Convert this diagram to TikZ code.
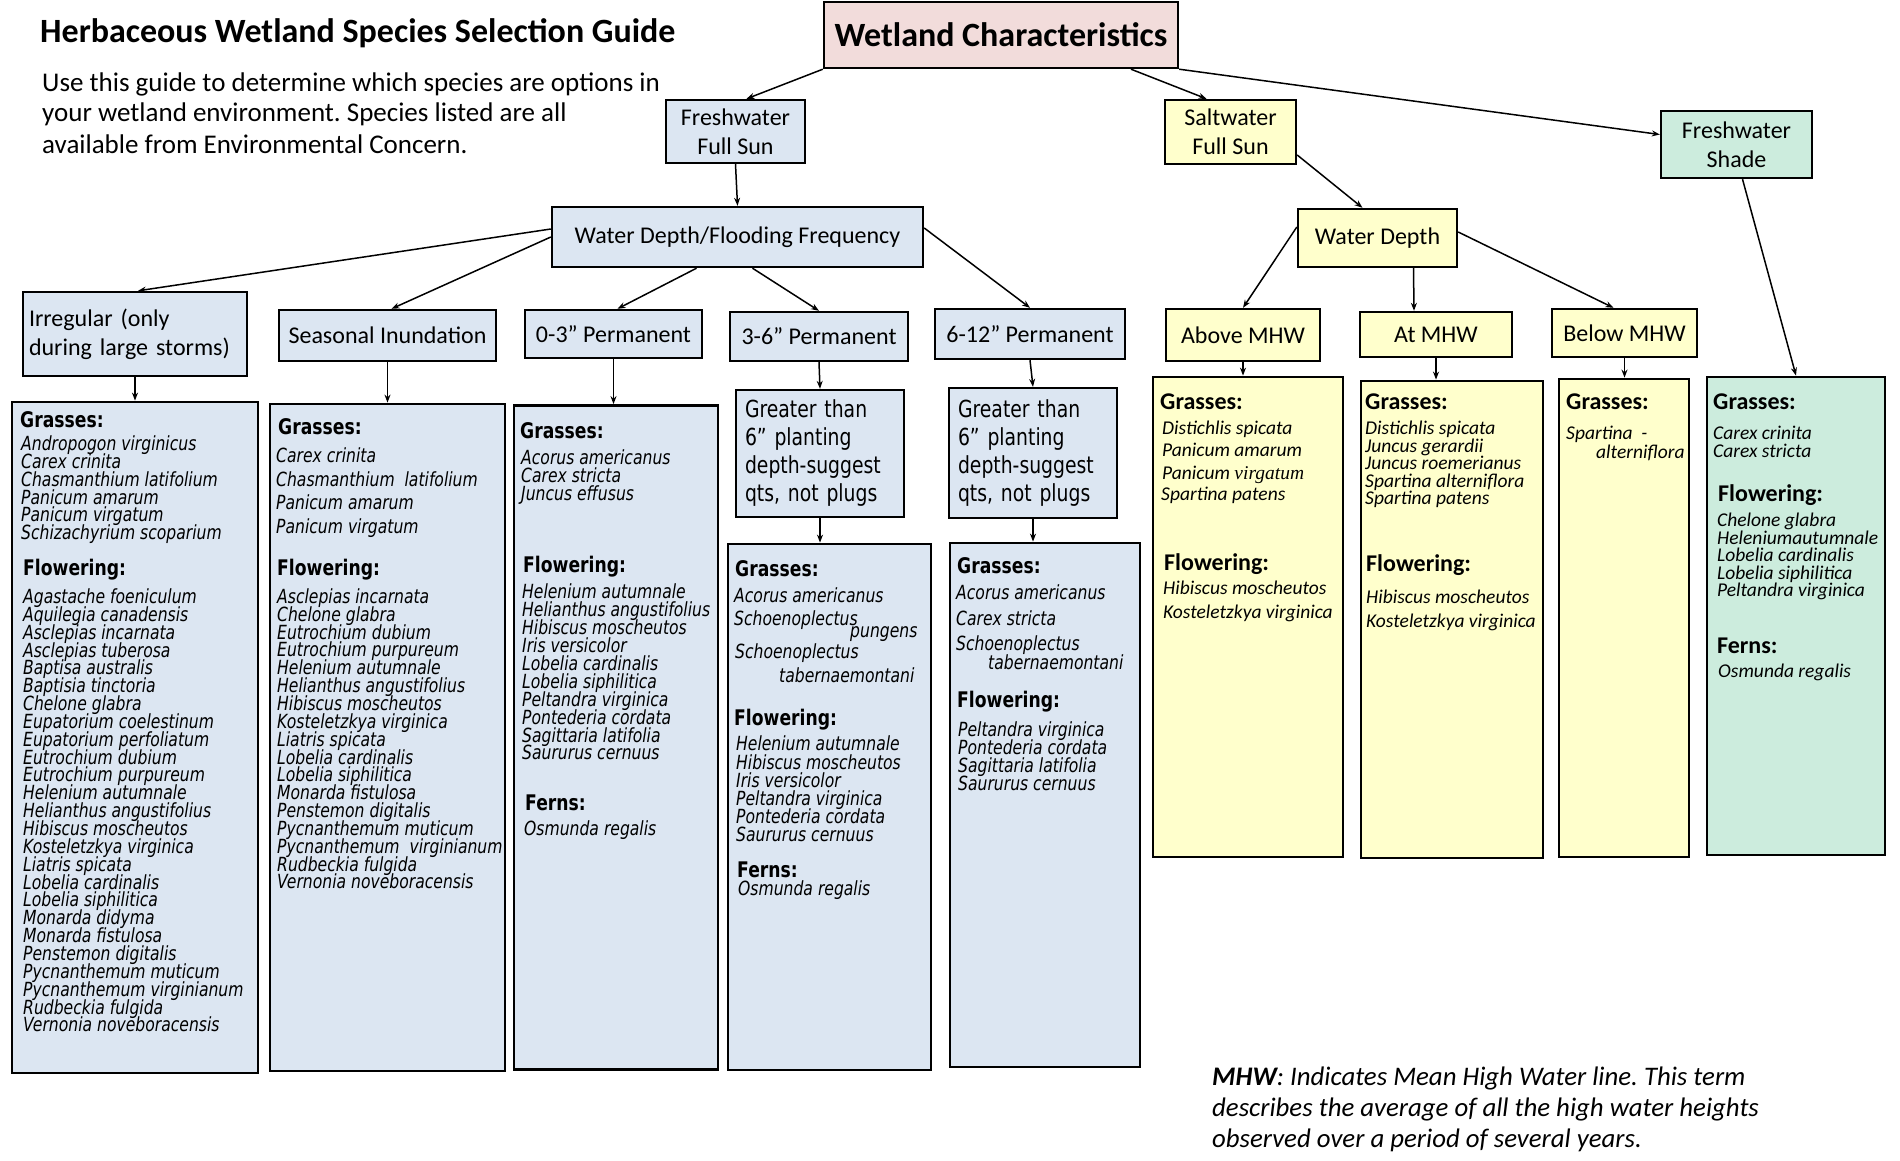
\documentclass[tikz,border=0pt]{standalone}
\usepackage{fontspec}
\setmainfont{Carlito}
\newfontfamily\vfont{DejaVu Sans}[FakeStretch=0.8,ItalicFont={DejaVu Sans Oblique},BoldFont={DejaVu Sans Bold}]
\newfontfamily\tnrfont{Liberation Serif}
\usetikzlibrary{arrows.meta}
\frenchspacing

\begin{document}
\begin{tikzpicture}[x=1pt,y=-1pt,
  box/.style={draw=black,line width=2.4pt,inner sep=0pt,align=center,font=\fontsize{24}{29}\selectfont},
  listbox/.style={draw=black,line width=2.8pt,inner sep=0pt},
  link/.style={draw=black,line width=1.5pt,-{Stealth[length=8pt,width=6pt]}},
  plain/.style={anchor=west,inner sep=0pt,font=\fontsize{27}{30}\selectfont},
  note/.style={anchor=west,inner sep=0pt,font=\itshape\fontsize{26.8}{31}\selectfont},
  sphead/.style={anchor=west,inner sep=0pt,font=\vfont\bfseries\fontsize{21.5}{24}\selectfont,text height=17.2pt,text depth=4.3pt},
  spname/.style={anchor=west,inner sep=0pt,font=\vfont\itshape\fontsize{19.5}{22}\selectfont,text height=15.6pt,text depth=3.9pt},
  sahead/.style={anchor=west,inner sep=0pt,font=\bfseries\fontsize{24}{29}\selectfont,text height=19.2pt,text depth=4.8pt},
  saname/.style={anchor=west,inner sep=0pt,font=\itshape\fontsize{19.5}{23}\selectfont,text height=15.6pt,text depth=3.9pt}]
\definecolor{fwColor}{RGB}{220,230,242}
\definecolor{swColor}{RGB}{255,255,204}
\definecolor{shColor}{RGB}{204,236,221}
\definecolor{topColor}{RGB}{242,220,219}
\path[use as bounding box,fill=white] (0,0) rectangle (1900,1160);

% heading
\node[plain,font=\bfseries\fontsize{34}{40}\selectfont] (title) at (40,33) {Herbaceous Wetland Species Selection Guide};
\node[plain] (intro1) at (42,84) {Use this guide to determine which species are options in};
\node[plain] (intro2) at (42,114) {your wetland environment. Species listed are all};
\node[plain] (intro3) at (42,144) {available from Environmental Concern.};

% tree boxes
\node[box,fill=topColor,minimum width=354pt,minimum height=66pt,font=\bfseries\fontsize{34}{40}\selectfont] (wc) at (1001,35) {Wetland Characteristics};
\node[box,fill=fwColor,minimum width=139pt,minimum height=63pt] (fwsun) at (735.5,131.5) {Freshwater\\Full Sun};
\node[box,fill=swColor,minimum width=131pt,minimum height=64pt] (swsun) at (1230.5,132) {Saltwater\\Full Sun};
\node[box,fill=shColor,minimum width=151pt,minimum height=67pt] (fwshade) at (1736.5,144.5) {Freshwater\\Shade};
\node[box,fill=fwColor,minimum width=371pt,minimum height=60pt] (wdff) at (737.5,237) {Water Depth/Flooding Frequency};
\node[box,fill=fwColor,minimum width=224pt,minimum height=84pt,text width=212pt,align=left] (irr) at (135,334) {Irregular (only\\during large storms)};
\node[box,fill=fwColor,minimum width=217pt,minimum height=51pt] (seas) at (387.5,335.5) {Seasonal Inundation};
\node[box,fill=fwColor,minimum width=177pt,minimum height=48pt] (perm03) at (613.5,334) {0-3” Permanent};
\node[box,fill=fwColor,minimum width=178pt,minimum height=49pt] (perm36) at (819,336.5) {3-6” Permanent};
\node[box,fill=fwColor,minimum width=190pt,minimum height=50pt] (perm612) at (1030,334) {6-12” Permanent};
\node[box,fill=swColor,minimum width=159pt,minimum height=58pt] (wd) at (1377.5,238) {Water Depth};
\node[box,fill=swColor,minimum width=154pt,minimum height=52pt] (above) at (1243,335) {Above MHW};
\node[box,fill=swColor,minimum width=152pt,minimum height=45pt] (atmhw) at (1436,334.5) {At MHW};
\node[box,fill=swColor,minimum width=145pt,minimum height=48pt] (below) at (1624.5,333) {Below MHW};
\node[box,fill=fwColor,minimum width=168pt,minimum height=127pt,text width=150pt,align=left,font=\vfont\fontsize{23.5}{28}\selectfont] (gt36) at (820,453.5) {Greater than\\6” planting\\depth-suggest\\qts, not plugs};
\node[box,fill=fwColor,minimum width=168pt,minimum height=130pt,text width=150pt,align=left,font=\vfont\fontsize{23.5}{28}\selectfont] (gt612) at (1033,453) {Greater than\\6” planting\\depth-suggest\\qts, not plugs};

% species boxes
\node[listbox,fill=fwColor,minimum width=246pt,minimum height=671pt] (irrlist) at (135,737.5) {};
\node[listbox,fill=fwColor,minimum width=235pt,minimum height=667pt] (seaslist) at (387.5,737.5) {};
\node[listbox,fill=fwColor,minimum width=204pt,minimum height=664pt] (p03list) at (616,737.5) {};
\node[listbox,fill=fwColor,minimum width=203pt,minimum height=526pt] (p36list) at (829.5,807) {};
\node[listbox,fill=fwColor,minimum width=190pt,minimum height=524pt] (p612list) at (1045,805) {};
\node[listbox,fill=swColor,minimum width=190pt,minimum height=480pt] (abovelist) at (1248,617) {};
\node[listbox,fill=swColor,minimum width=182pt,minimum height=477pt] (atlist) at (1452,619.5) {};
\node[listbox,fill=swColor,minimum width=130pt,minimum height=478pt] (belowlist) at (1624,618) {};
\node[listbox,fill=shColor,minimum width=178pt,minimum height=478pt] (shadelist) at (1796,616) {};

% connectors
\draw[link] (wc.south west) -- ([xshift=11pt]fwsun.north);
\draw[link] ([xshift=130pt]wc.south) -- ([xshift=-24pt]swsun.north);
\draw[link] (wc.south east) -- ([yshift=10pt]fwshade.west);
\draw[link] (fwsun.south) -- (wdff.north);
\draw[link] ([yshift=8pt]wdff.west) -- ([xshift=3pt]irr.north);
\draw[link] (wdff.west) -- ([xshift=4pt]seas.north);
\draw[link] ([xshift=-41pt]wdff.south) -- ([xshift=4pt]perm03.north);
\draw[link] ([xshift=15pt]wdff.south) -- (perm36.north);
\draw[link] ([yshift=9pt]wdff.east) -- (perm612.north);
\draw[link] ([yshift=-23pt]swsun.east) -- ([xshift=-15pt]wd.north);
\draw[link] ([yshift=11pt]wd.west) -- (above.north);
\draw[link] ([xshift=36pt]wd.south) -- ([xshift=-22pt]atmhw.north);
\draw[link] ([yshift=6pt]wd.east) -- ([xshift=-11pt]below.north);
\draw[link] ([xshift=6pt]fwshade.south) -- (shadelist.north);
\draw[link] (irr.south) -- (irrlist.north);
\draw[link] (seas.south) -- (seaslist.north);
\draw[link] (perm03.south) -- (perm03.south |- p03list.north);
\draw[link] (perm36.south) -- (gt36.north);
\draw[link] (gt36.south) -- (gt36.south |- p36list.north);
\draw[link] (perm612.south) -- (gt612.north);
\draw[link] (gt612.south) -- (gt612.south |- p612list.north);
\draw[link] (above.south) -- (above.south |- abovelist.north);
\draw[link] (atmhw.south) -- (atmhw.south |- atlist.north);
\draw[link] (below.south) -- (below.south |- belowlist.north);

% irregular
\node[sphead] (irrg) at (20,421) {Grasses:};
\foreach \nm [count=\k] in {Andropogon virginicus, Carex crinita, Chasmanthium latifolium,
  Panicum amarum, Panicum virgatum, Schizachyrium scoparium}
  \node[spname] (irrg\k) at (21,{444.5+17.9*(\k-1)}) {\nm};
\node[sphead] (irrf) at (23,568.6) {Flowering:};
\foreach \nm [count=\k] in {Agastache foeniculum, Aquilegia canadensis, Asclepias incarnata,
  Asclepias tuberosa, Baptisa australis, Baptisia tinctoria, Chelone glabra,
  Eupatorium coelestinum, Eupatorium perfoliatum, Eutrochium dubium, Eutrochium purpureum,
  Helenium autumnale, Helianthus angustifolius, Hibiscus moscheutos, Kosteletzkya virginica,
  Liatris spicata, Lobelia cardinalis, Lobelia siphilitica, Monarda didyma, Monarda fistulosa,
  Penstemon digitalis, Pycnanthemum muticum, Pycnanthemum virginianum, Rudbeckia fulgida,
  Vernonia noveboracensis}
  \node[spname] (irrf\k) at (23,{597.6+17.85*(\k-1)}) {\nm};

% seasonal
\node[sphead] (seasg) at (278,428) {Grasses:};
\foreach \nm [count=\k] in {Carex crinita, Chasmanthium\ \ latifolium, Panicum amarum, Panicum virgatum}
  \node[spname] (seasg\k) at (276,{457+23.5*(\k-1)}) {\nm};
\node[sphead] (seasf) at (277,568.6) {Flowering:};
\foreach \nm [count=\k] in {Asclepias incarnata, Chelone glabra, Eutrochium dubium,
  Eutrochium purpureum, Helenium autumnale, Helianthus angustifolius, Hibiscus moscheutos,
  Kosteletzkya virginica, Liatris spicata, Lobelia cardinalis, Lobelia siphilitica,
  Monarda fistulosa, Penstemon digitalis, Pycnanthemum muticum, Pycnanthemum\ \ virginianum,
  Rudbeckia fulgida, Vernonia noveboracensis}
  \node[spname] (seasf\k) at (277,{597.6+17.84*(\k-1)}) {\nm};

% 0-3 permanent
\node[sphead] (p03g) at (520,432.4) {Grasses:};
\foreach \nm [count=\k] in {Acorus americanus, Carex stricta, Juncus effusus}
  \node[spname] (p03g\k) at (521,{459+18*(\k-1)}) {\nm};
\node[sphead] (p03f) at (523,566) {Flowering:};
\foreach \nm [count=\k] in {Helenium autumnale, Helianthus angustifolius, Hibiscus moscheutos,
  Iris versicolor, Lobelia cardinalis, Lobelia siphilitica, Peltandra virginica,
  Pontederia cordata, Sagittaria latifolia, Saururus cernuus}
  \node[spname] (p03f\k) at (522,{593+17.9*(\k-1)}) {\nm};
\node[sphead] (p03e) at (525,804) {Ferns:};
\node[spname] (p03e1) at (524,830) {Osmunda regalis};

% 3-6 permanent
\node[sphead] (p36g) at (735,570) {Grasses:};
\node[spname] (p36g1) at (734,596.5) {Acorus americanus};
\node[spname] (p36g2) at (734,620) {Schoenoplectus};
\node[spname] (p36g3) at (850,632) {pungens};
\node[spname] (p36g4) at (735,653) {Schoenoplectus};
\node[spname] (p36g5) at (779,677) {tabernaemontani};
\node[sphead] (p36f) at (734,719) {Flowering:};
\foreach \nm [count=\k] in {Helenium autumnale, Hibiscus moscheutos, Iris versicolor,
  Peltandra virginica, Pontederia cordata, Saururus cernuus}
  \node[spname] (p36f\k) at (736,{745+18.2*(\k-1)}) {\nm};
\node[sphead] (p36e) at (737,871) {Ferns:};
\node[spname] (p36e1) at (738,890) {Osmunda regalis};

% 6-12 permanent
\node[sphead] (p612g) at (957,567.5) {Grasses:};
\node[spname] (p612g1) at (956,594) {Acorus americanus};
\node[spname] (p612g2) at (956,620) {Carex stricta};
\node[spname] (p612g3) at (956,645) {Schoenoplectus};
\node[spname] (p612g4) at (988,663.5) {tabernaemontani};
\node[sphead] (p612f) at (957,701) {Flowering:};
\foreach \nm [count=\k] in {Peltandra virginica, Pontederia cordata, Sagittaria latifolia, Saururus cernuus}
  \node[spname] (p612f\k) at (958,{731+18*(\k-1)}) {\nm};

% above MHW
\node[sahead] (abg) at (1160,402) {Grasses:};
\node[saname] (abg1) at (1162,429) {Distichlis spicata};
\node[saname] (abg2) at (1162,451) {Panicum amarum};
\node[saname] (abg3) at (1162,474) {Panicum {\tnrfont\itshape virgatum}};
\node[saname] (abg4) at (1161,495) {Spartina patens};
\node[sahead] (abf) at (1164,563) {Flowering:};
\node[saname] (abf1) at (1163,589) {Hibiscus moscheutos};
\node[saname] (abf2) at (1163,613) {Kosteletzkya virginica};

% at MHW
\node[sahead] (atg) at (1365,402) {Grasses:};
\foreach \nm [count=\k] in {Distichlis spicata, Juncus gerardii, Juncus roemerianus,
  Spartina alterniflora, Spartina patens}
  \node[saname] (atg\k) at (1365,{429+17.5*(\k-1)}) {\nm};
\node[sahead] (atf) at (1366,564) {Flowering:};
\node[saname] (atf1) at (1366,598) {Hibiscus moscheutos};
\node[saname] (atf2) at (1366,622) {Kosteletzkya virginica};

% below MHW
\node[sahead] (blg) at (1566,402) {Grasses:};
\node[saname] (blg1) at (1566,434) {Spartina\ \ -};
\node[saname] (blg2) at (1596,453) {alterniflora};

% freshwater shade
\node[sahead] (shg) at (1713,402) {Grasses:};
\node[saname] (shg1) at (1713,434) {Carex crinita};
\node[saname] (shg2) at (1713,452) {Carex stricta};
\node[sahead] (shf) at (1718,494) {Flowering:};
\foreach \nm [count=\k] in {Chelone glabra, Heleniumautumnale, Lobelia cardinalis,
  Lobelia siphilitica, Peltandra virginica}
  \node[saname] (shf\k) at (1717,{521+17.5*(\k-1)}) {\nm};
\node[sahead] (she) at (1717,646) {Ferns:};
\node[saname] (she1) at (1718,672) {Osmunda regalis};

% note
\node[note] (mhw1) at (1212,1078) {\textbf{MHW}: Indicates Mean High Water line. This term};
\node[note] (mhw2) at (1212,1109) {describes the average of all the high water heights};
\node[note] (mhw3) at (1212,1140) {observed over a period of several years.};
\end{tikzpicture}
\end{document}
